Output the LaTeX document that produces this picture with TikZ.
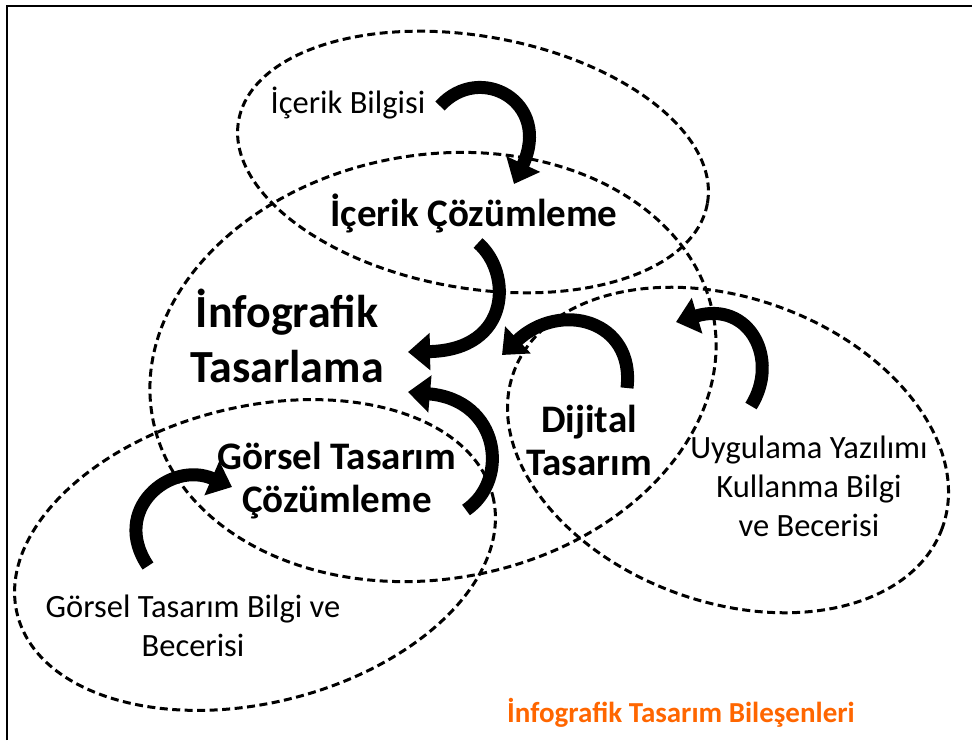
\documentclass[tikz,border=0pt]{standalone}
\usepackage{fontspec}
\setmainfont{Carlito}
\usetikzlibrary{arrows.meta}
\definecolor{titleorange}{RGB}{255,102,0}
\tikzset{
  region/.style={draw=black, line width=3pt, dash pattern=on 8pt off 4.5pt},
  flow/.style={draw=black, line width=13pt, line cap=butt,
    -{Triangle[length=22pt,width=36pt]}},
  plain/.style={font=\fontsize{32.5}{39}\selectfont, align=center, inner sep=0pt},
  heading/.style={font=\bfseries\fontsize{39}{43}\selectfont, align=center, inner sep=0pt},
  bigheading/.style={font=\bfseries\fontsize{46}{55}\selectfont, align=center, inner sep=0pt},
}
\begin{document}
\begin{tikzpicture}[x=1pt,y=-1pt]
\useasboundingbox (0,0) rectangle (972,740);
% frame
\draw[line width=2.5pt] (7,740) -- (7,6) -- (972,6);

% dashed regions
\draw[region, rotate around={-10:(473,162)}] (473,162) ellipse [x radius=238, y radius=126];
\draw[region, rotate around={10:(433,367)}] (433,367) ellipse [x radius=285, y radius=212];
\draw[region, rotate around={14:(255,555)}] (255,555) ellipse [x radius=245, y radius=148];
\draw[region, rotate around={-20:(728,450)}] (728,450) ellipse [x radius=228, y radius=152];

% labels
\node[plain] (bilgi) at (348,103) {İçerik Bilgisi};
\node[heading] (cozum) at (474,213) {İçerik Çözümleme};
\node[bigheading] (info) at (287,336) {İnfografik\\Tasarlama};
\node[heading] (gorsel) at (337,481) {Görsel Tasarım\\Çözümleme};
\node[heading] (dijital) at (589,440) {Dijital\\Tasarım};
\node[plain] (uygulama) at (809,486) {Uygulama Yazılımı\\Kullanma Bilgi\\ve Becerisi};
\node[plain] (gbilgi) at (193,626) {Görsel Tasarım Bilgi ve\\Becerisi};
\node[font=\bfseries\fontsize{29}{34}\selectfont, text=titleorange, inner sep=0pt] (title) at (681,713) {İnfografik Tasarım Bileşenleri};

% arrow end points
\coordinate (a1s) at (440,106);
\coordinate (a1e) at (514,184);
\coordinate (a2s) at (478,243);
\coordinate (a2e) at (408,352);
\coordinate (a3s) at (466,510);
\coordinate (a3e) at (408,392);
\coordinate (a4s) at (627,388);
\coordinate (a4e) at (502,355);
\coordinate (a5s) at (751,406);
\coordinate (a5e) at (676,322);
\coordinate (a6s) at (148,566);
\coordinate (a6e) at (232,487);

% curved arrows
\draw[flow] (a1s) .. controls (480,62) and (552,102) .. (a1e);
\draw[flow] (a2s) .. controls (512,272) and (512,350) .. (a2e);
\draw[flow] (a3s) .. controls (510,480) and (500,400) .. (a3e);
\draw[flow] (a4s) .. controls (635,320) and (560,300) .. (a4e);
\draw[flow] (a5s) .. controls (780,360) and (750,300) .. (a5e);
\draw[flow] (a6s) .. controls (110,510) and (170,460) .. (a6e);
\end{tikzpicture}
\end{document}
